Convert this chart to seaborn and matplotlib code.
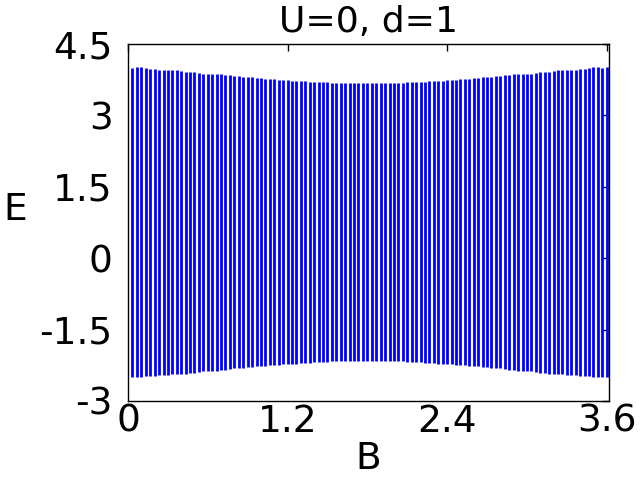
import numpy as np
import pandas as pd
import matplotlib
matplotlib.use("Agg")
import matplotlib.pyplot as plt
import seaborn as sns

# ---- data ----
B_values = [
    0.033, 0.067, 0.100, 0.133, 0.167, 0.200, 0.233, 0.267, 0.300, 0.333,
    0.367, 0.400, 0.433, 0.467, 0.500, 0.533, 0.567, 0.600, 0.633, 0.667,
    0.700, 0.733, 0.767, 0.800, 0.833, 0.867, 0.900, 0.933, 0.967, 1.000,
    1.033, 1.067, 1.100, 1.133, 1.167, 1.200, 1.233, 1.267, 1.300, 1.333,
    1.367, 1.400, 1.433, 1.467, 1.500, 1.533, 1.567, 1.600, 1.633, 1.667,
    1.700, 1.733, 1.767, 1.800, 1.833, 1.867, 1.900, 1.933, 1.967, 2.000,
    2.033, 2.067, 2.100, 2.133, 2.167, 2.200, 2.233, 2.267, 2.300, 2.333,
    2.367, 2.400, 2.433, 2.467, 2.500, 2.533, 2.567, 2.600, 2.633, 2.667,
    2.700, 2.733, 2.767, 2.800, 2.833, 2.867, 2.900, 2.933, 2.967, 3.000,
    3.033, 3.067, 3.100, 3.133, 3.167, 3.200, 3.233, 3.267, 3.300, 3.333,
    3.367, 3.400, 3.433, 3.467, 3.500, 3.533, 3.567, 3.600,
]

E_top = [
    4.00, 4.01, 4.01, 3.99, 3.98, 3.98, 3.96, 3.96, 3.95, 3.95,
    3.95, 3.93, 3.92, 3.92, 3.91, 3.90, 3.88, 3.88, 3.87, 3.86,
    3.86, 3.84, 3.84, 3.82, 3.82, 3.80, 3.80, 3.80, 3.78, 3.78,
    3.76, 3.76, 3.76, 3.74, 3.74, 3.74, 3.72, 3.72, 3.72, 3.72,
    3.70, 3.70, 3.70, 3.70, 3.70, 3.68, 3.68, 3.68, 3.68, 3.68,
    3.68, 3.68, 3.68, 3.68,
    3.68, 3.68, 3.68, 3.68, 3.68, 3.68, 3.68, 3.68, 3.70, 3.70,
    3.70, 3.70, 3.70, 3.72, 3.72, 3.72, 3.72, 3.74, 3.74, 3.74,
    3.76, 3.76, 3.76, 3.78, 3.78, 3.80, 3.80, 3.80, 3.82, 3.82,
    3.84, 3.84, 3.86, 3.86, 3.87, 3.88, 3.88, 3.90, 3.91, 3.92,
    3.92, 3.93, 3.95, 3.95, 3.95, 3.96, 3.96, 3.98, 3.98, 3.99,
    4.01, 4.01, 4.00, 4.01,
]

E_bottom = [
    -2.50, -2.50, -2.50, -2.48, -2.48, -2.47, -2.46, -2.46, -2.45, -2.44,
    -2.44, -2.43, -2.43, -2.42, -2.41, -2.39, -2.38, -2.37, -2.36, -2.36,
    -2.34, -2.34, -2.33, -2.31, -2.31, -2.30, -2.29, -2.29, -2.27, -2.27,
    -2.26, -2.25, -2.24, -2.24, -2.23, -2.22, -2.22, -2.22, -2.21, -2.20,
    -2.20, -2.19, -2.19, -2.18, -2.18, -2.17, -2.17, -2.17, -2.17, -2.17,
    -2.16, -2.16, -2.16, -2.16,
    -2.16, -2.16, -2.16, -2.17, -2.17, -2.17, -2.17, -2.17, -2.18, -2.18,
    -2.19, -2.19, -2.20, -2.20, -2.21, -2.22, -2.22, -2.22, -2.23, -2.24,
    -2.24, -2.25, -2.26, -2.27, -2.27, -2.29, -2.29, -2.30, -2.31, -2.31,
    -2.33, -2.34, -2.34, -2.36, -2.36, -2.37, -2.38, -2.39, -2.41, -2.42,
    -2.43, -2.43, -2.44, -2.44, -2.45, -2.46, -2.46, -2.47, -2.48, -2.48,
    -2.50, -2.50, -2.50, -2.50,
]

x_ticks = [0, 1.2, 2.4, 3.6]
x_tick_labels = ["0", "1.2", "2.4", "3.6"]
y_ticks = [-3, -1.5, 0, 1.5, 3, 4.5]
y_tick_labels = ["-3", "-1.5", "0", "1.5", "3", "4.5"]

title = "U=0, d=1"
x_label = "B"
y_label = "E"

# ---- long-format table: each column of the spectrum is a vertical segment ----
rows = []
for i, (b, lo, hi) in enumerate(zip(B_values, E_bottom, E_top)):
    rows.append({"col": i, "B": b, "E": lo})
    rows.append({"col": i, "B": b, "E": hi})
df = pd.DataFrame(rows)

sns.set_style("white")
plt.rcParams["font.family"] = ["DejaVu Sans"]
plt.rcParams["axes.unicode_minus"] = False
plt.rcParams["text.color"] = "black"
plt.rcParams["axes.labelcolor"] = "black"
plt.rcParams["xtick.color"] = "black"
plt.rcParams["ytick.color"] = "black"

fig = plt.figure(figsize=(6.4, 4.8), dpi=100)
ax = fig.add_axes([0.200, 0.1646, 0.7516, 0.7437])

sns.lineplot(data=df, x="B", y="E", units="col", estimator=None, sort=False,
             color="#0000ff", linewidth=2.0, legend=False, ax=ax,
             solid_capstyle="butt", antialiased=True)

ax.set_xlim(0, 3.617)
ax.set_ylim(-3, 4.5)
ax.set_xticks(x_ticks)
ax.set_xticklabels(x_tick_labels, fontsize=27, color="black")
ax.set_yticks(y_ticks)
ax.set_yticklabels(y_tick_labels, fontsize=27, color="black")
ax.tick_params(axis="both", direction="in", top=True, right=True,
               length=5, width=1, color="black")
ax.tick_params(axis="x", pad=2)
ax.tick_params(axis="y", pad=11)

for s in ax.spines.values():
    s.set_visible(True)
    s.set_color("black")
    s.set_linewidth(1)

ax.set_xlabel(x_label, fontsize=27, color="black", va="center")
ax.set_ylabel(y_label, fontsize=27, color="black", rotation=0,
              ha="center", va="center")
ax.xaxis.set_label_coords(0.5, -0.163)
ax.yaxis.set_label_coords(-0.234, 0.535)
ax.set_title(title, fontsize=26, pad=9, color="black")

fig.savefig("out.png", dpi=100, facecolor="white")
